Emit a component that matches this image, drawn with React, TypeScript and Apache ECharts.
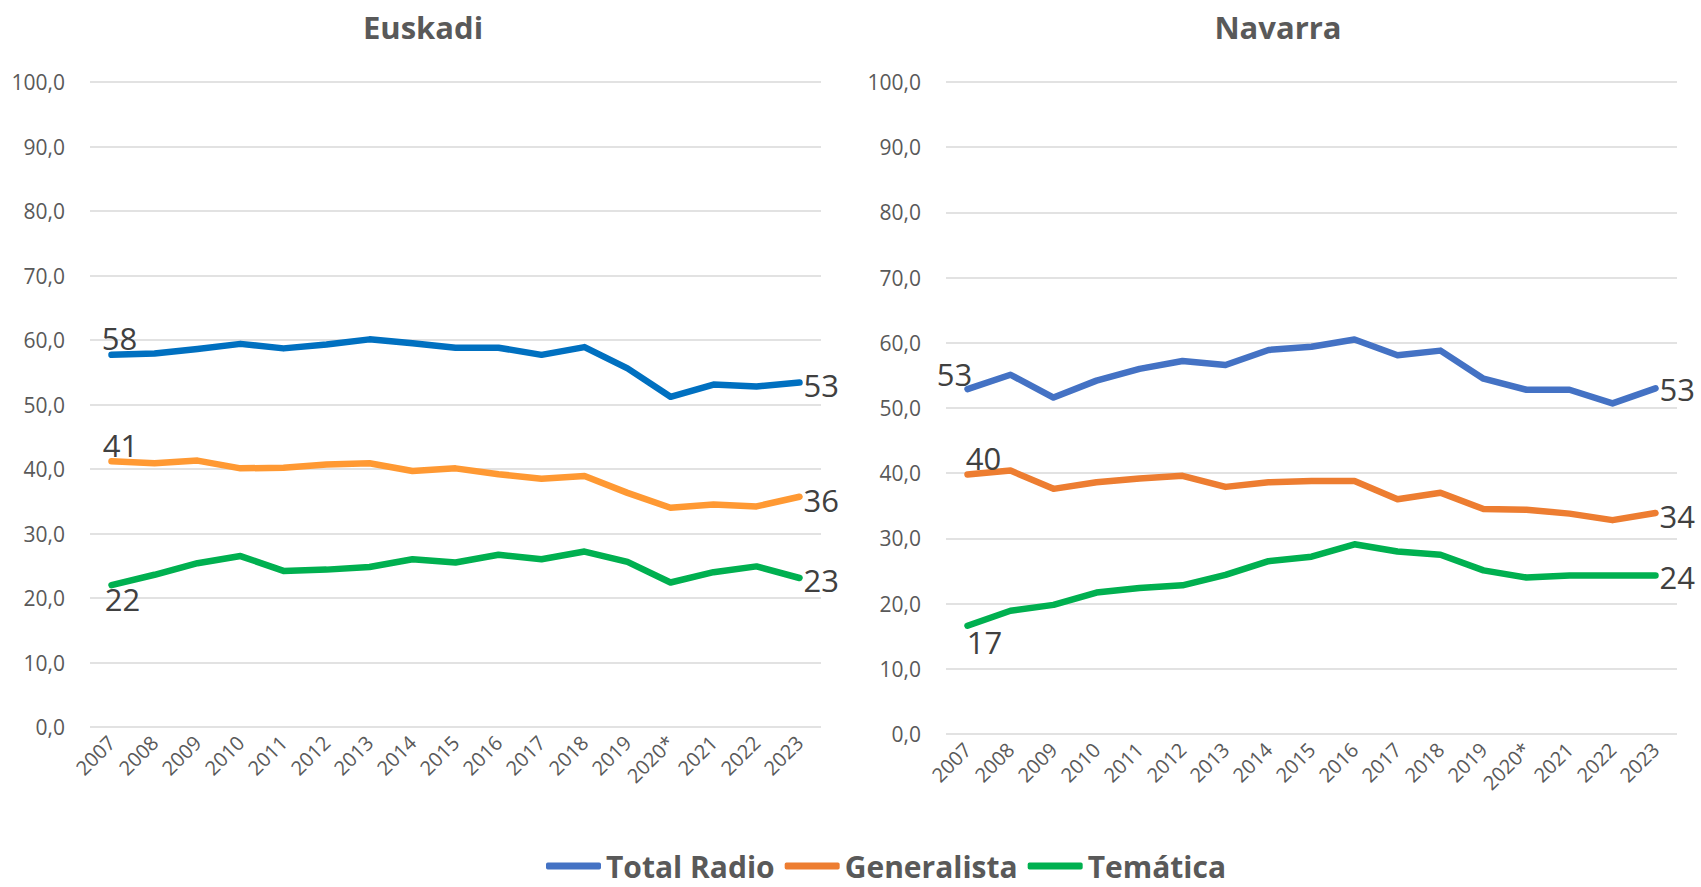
import React, { useEffect, useRef } from "react";
import * as echarts from "echarts";

const years = ["2007", "2008", "2009", "2010", "2011", "2012", "2013", "2014", "2015", "2016", "2017", "2018", "2019", "2020*", "2021", "2022", "2023"];
const yTicks = [0, 10, 20, 30, 40, 50, 60, 70, 80, 90, 100];
const seriesNames = ["Total Radio", "Generalista", "Temática"];
const chartTitles = ["Euskadi", "Navarra"];

const euskadiTotal = [57.7, 57.9, 58.6, 59.4, 58.7, 59.3, 60.1, 59.5, 58.8, 58.8, 57.7, 58.9, 55.6, 51.2, 53.1, 52.8, 53.4];
const euskadiGeneralista = [41.2, 40.9, 41.3, 40.1, 40.2, 40.7, 40.9, 39.7, 40.1, 39.2, 38.5, 38.9, 36.3, 34.0, 34.5, 34.2, 35.7];
const euskadiTematica = [22.0, 23.6, 25.4, 26.5, 24.2, 24.4, 24.8, 26.0, 25.5, 26.7, 26.0, 27.2, 25.6, 22.4, 24.0, 24.9, 23.1];

const navarraTotal = [52.9, 55.1, 51.6, 54.2, 56.0, 57.2, 56.6, 58.9, 59.4, 60.5, 58.1, 58.8, 54.5, 52.8, 52.8, 50.7, 53.0];
const navarraGeneralista = [39.8, 40.4, 37.6, 38.6, 39.2, 39.6, 37.9, 38.6, 38.8, 38.8, 36.0, 37.0, 34.5, 34.4, 33.8, 32.8, 33.9];
const navarraTematica = [16.6, 18.9, 19.8, 21.7, 22.4, 22.8, 24.4, 26.5, 27.2, 29.1, 28.0, 27.5, 25.1, 24.0, 24.3, 24.3, 24.3];

const FONT = "'Open Sans', sans-serif";

function labelled(values: number[], startPos: string, endPos: string) {
  return values.map((v, i) => {
    if (i === 0) return { value: v, label: { show: true, position: startPos, distance: 0 } };
    if (i === values.length - 1) return { value: v, label: { show: true, position: endPos, distance: 3 } };
    return v;
  });
}

export default function App() {
  const ref = useRef<HTMLDivElement>(null);

  useEffect(() => {
    document.body.style.margin = "0";
    if (!ref.current) return;
    const chart = echarts.init(ref.current, undefined, { renderer: "svg" });

    const mkSeries = (
      name: string,
      color: string,
      values: number[],
      idx: number,
      startPos: string,
      startShift: number[],
      endShift: number[]
    ) => ({
      name,
      type: "line",
      xAxisIndex: idx,
      yAxisIndex: idx,
      data: labelled(values, startPos, "right"),
      symbol: "circle",
      symbolSize: 2,
      showSymbol: true,
      lineStyle: { color, width: 6.5, cap: "round", join: "round" },
      itemStyle: { color, borderWidth: 0 },
      label: {
        show: false,
        fontFamily: FONT,
        fontSize: 31,
        color: "#404040",
        formatter: (p: any) => String(Math.round(p.value)),
      },
      labelLayout: (params: any) => {
        if (params.dataIndex === 0) return { dx: startShift[0], dy: startShift[1], hideOverlap: false };
        return { dx: endShift[0], dy: endShift[1], hideOverlap: false };
      },
      emphasis: { disabled: true },
    });

    const xAxisBase = (idx: number) => ({
      type: "category",
      gridIndex: idx,
      data: years,
      boundaryGap: true,
      axisLine: { show: false },
      axisTick: { show: false },
      axisLabel: {
        rotate: 45,
        interval: 0,
        margin: 12,
        fontFamily: FONT,
        fontSize: 20,
        color: "#595959",
      },
    });

    const yAxisBase = (idx: number) => ({
      type: "value",
      gridIndex: idx,
      min: yTicks[0],
      max: yTicks[yTicks.length - 1],
      interval: 10,
      axisLine: { show: false },
      axisTick: { show: false },
      splitLine: { lineStyle: { color: "#D9D9D9", width: 1.5 } },
      axisLabel: {
        margin: 25,
        fontFamily: FONT,
        fontSize: 21,
        color: "#595959",
        formatter: (v: number) => v.toFixed(1).replace(".", ","),
      },
    });

    const option: any = {
      animation: false,
      backgroundColor: "#ffffff",
      grid: [
        { left: 90, top: 82, width: 731, height: 645 },
        { left: 946, top: 82, width: 731, height: 652 },
      ],
      xAxis: [xAxisBase(0), xAxisBase(1)],
      yAxis: [yAxisBase(0), yAxisBase(1)],
      legend: {
        left: 546,
        top: 851,
        padding: 0,
        icon: "roundRect",
        itemWidth: 55,
        itemHeight: 7,
        itemGap: 10,
        selectedMode: false,
        textStyle: { fontFamily: FONT, fontSize: 30, lineHeight: 30, fontWeight: "bold", color: "#595959" },
        data: [
          { name: seriesNames[0], itemStyle: { color: "#4472C4" } },
          { name: seriesNames[1], itemStyle: { color: "#ED7D31" } },
          { name: seriesNames[2], itemStyle: { color: "#00B050" } },
        ],
      },
      graphic: [
        {
          type: "text",
          x: 423,
          y: 27,
          style: { text: chartTitles[0], textAlign: "center", textVerticalAlign: "middle", fontFamily: FONT, fontSize: 31, fontWeight: "bold", fill: "#595959" },
        },
        {
          type: "text",
          x: 1278,
          y: 27,
          style: { text: chartTitles[1], textAlign: "center", textVerticalAlign: "middle", fontFamily: FONT, fontSize: 31, fontWeight: "bold", fill: "#595959" },
        },
      ],
      series: [
        mkSeries(seriesNames[0], "#0070C0", euskadiTotal, 0, "top", [8, 0], [0, 2]),
        mkSeries(seriesNames[1], "#FF9933", euskadiGeneralista, 0, "top", [9, 0], [0, 3]),
        mkSeries(seriesNames[2], "#00B050", euskadiTematica, 0, "bottom", [11, -3], [0, 2]),
        mkSeries(seriesNames[0], "#4472C4", navarraTotal, 1, "top", [-13, 1], [0, 1]),
        mkSeries(seriesNames[1], "#ED7D31", navarraGeneralista, 1, "top", [16, 0], [0, 3]),
        mkSeries(seriesNames[2], "#00B050", navarraTematica, 1, "bottom", [17, 0], [0, 1]),
      ],
    };

    chart.setOption(option);
    return () => chart.dispose();
  }, []);

  return <div ref={ref} style={{ width: 1701, height: 887 }} />;
}
